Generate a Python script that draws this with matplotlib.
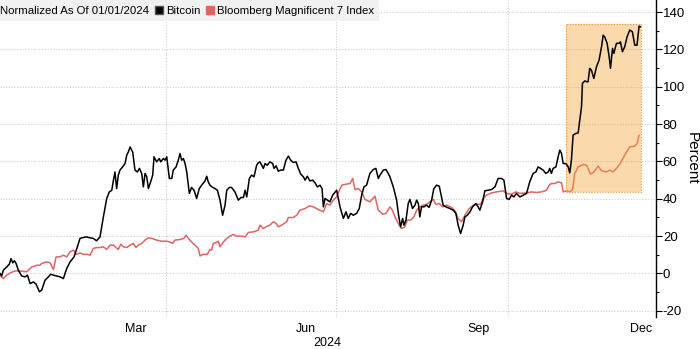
import numpy as np
import matplotlib
matplotlib.use("Agg")
import matplotlib.pyplot as plt
import matplotlib.dates as mdates
from matplotlib.lines import Line2D
from matplotlib.patches import Rectangle
from matplotlib.ticker import MultipleLocator, FixedLocator, FixedFormatter

# days since 2024-01-01, percent change since 01/01/2024
btc_days = [2.1, 3.0, 3.9, 5.7, 7.1, 8.0, 8.9, 9.8, 10.7, 11.9, 13.7, 15.5, 16.8, 18.2, 20.0, 21.4, 23.2, 24.4,
            26.2, 28.0, 29.2, 30.7, 32.4, 34.2, 36.0, 37.8, 39.6, 41.7, 43.5, 44.9, 46.7, 48.5, 50.3, 52.0, 53.8,
            55.6, 57.4, 59.2, 60.6, 61.9, 62.8, 63.6, 64.5, 65.4, 66.3, 67.7, 69.0, 69.9, 70.8,
            71.7, 73.1, 74.3, 75.6, 76.7, 77.9, 78.8, 79.7, 80.6, 81.5, 82.7, 83.8, 84.5, 85.9, 87.3, 88.1, 89.5,
            90.4, 91.3, 92.7, 94.0, 94.8, 96.3, 97.5, 98.4, 99.3, 100.2, 101.1, 102.0, 103.4, 104.6, 105.9, 107.3,
            108.7, 110.0, 111.8, 112.7, 113.5, 114.4, 115.9, 117.1, 118.4, 119.8, 121.2, 122.5, 123.4, 124.8,
            126.0, 127.8, 129.6, 131.0, 132.3, 133.2, 134.1, 135.5, 136.7, 138.0, 139.4, 140.3,
            141.2, 143.0, 143.9, 145.1, 146.5, 148.0, 148.7, 149.8, 151.0, 152.3, 153.7, 155.1, 156.4, 157.6,
            159.0, 160.5, 161.7, 163.0, 164.4, 165.3, 166.5, 167.9, 169.4, 170.6, 171.9, 173.3, 174.4, 175.1,
            176.0, 177.2, 178.6, 180.1, 182.2, 184.0, 185.8, 187.2, 188.4, 189.7, 191.1, 192.9, 194.3, 195.6,
            196.8, 198.2, 200.0, 201.8, 203.2, 204.5, 205.4, 207.2, 208.6, 209.8,
            210.7, 212.5, 214.3, 215.2, 216.4, 217.5, 218.2, 219.3, 220.5, 221.4, 222.8, 224.1, 225.0, 225.9,
            226.7, 227.6, 228.9, 230.3, 231.7, 233.0, 234.2, 235.7, 237.1, 238.3, 239.2, 240.6, 242.8, 244.6,
            246.0, 247.2, 248.5, 249.9, 250.8, 252.1, 253.5, 254.9, 256.7, 257.9, 258.8, 260.3, 261.5, 263.3,
            265.1, 266.9, 268.6, 270.4, 271.7, 273.1, 274.5, 275.8, 277.0, 278.4,
            280.2, 283.8, 285.5, 287.3, 288.8, 290.0, 291.3, 292.7, 294.1, 295.4, 296.2, 297.1, 298.0, 299.5,
            300.7, 301.6, 302.5, 303.4, 304.8, 306.1, 306.9, 307.8, 308.7, 310.1, 311.4, 312.3, 313.2, 313.7,
            315.0, 315.9, 316.7, 317.6, 318.5, 319.8, 321.2, 322.6, 323.9, 324.8, 325.7, 326.9, 328.0, 328.7,
            329.8, 330.5, 331.9, 333.3, 334.0, 335.1, 336.3, 337.6, 339.0, 340.4, 341.7, 342.9, 344.0, 344.7]
btc_pct = [0.0, -1.3, 1.8, 3.5, 5.0, 8.0, 5.7, 6.8, 5.4, 1.8, -1.3, -1.8, -0.9, -5.4, -4.5, -5.7, -9.8, -8.9,
           -3.6, -1.8, -0.4, -0.9, -1.3, -1.8, -2.7, 2.7, 6.2, 8.9, 14.3, 18.8, 19.3, 19.6, 19.1, 18.8, 17.5,
           19.6, 30.3, 40.2, 43.7, 44.6, 50.0, 54.4, 45.5, 52.7, 55.4, 57.1, 58.9, 63.4, 65.2,
           67.8, 65.0, 55.4, 54.4, 56.3, 53.6, 46.4, 53.6, 51.8, 45.5, 49.1, 52.7, 62.5, 59.8, 61.6, 59.8, 61.6,
           60.7, 62.5, 50.9, 50.9, 55.4, 57.1, 60.7, 64.3, 60.7, 61.6, 58.9, 54.4, 42.9, 46.1, 44.6, 40.2,
           45.5, 47.3, 49.6, 52.1, 49.1, 47.3, 46.1, 45.5, 44.6, 39.3, 31.2, 36.6, 44.6, 46.1,
           46.1, 43.7, 39.3, 40.7, 40.7, 44.6, 41.0, 50.9, 52.7, 51.8, 58.0, 59.3,
           59.8, 56.3, 58.9, 58.0, 59.8, 58.9, 56.3, 57.7, 54.8, 55.4, 55.4, 60.7, 62.9, 60.7,
           59.5, 59.8, 56.3, 53.2, 51.8, 50.0, 52.1, 49.6, 50.0, 48.6, 46.4, 47.3, 45.5, 35.7,
           40.2, 39.3, 38.4, 42.0, 44.6, 35.7, 29.5, 33.0, 29.5, 32.2, 31.2, 32.2, 34.8, 42.0,
           46.4, 47.3, 53.6, 55.7, 56.3, 50.9, 52.7, 55.4, 55.7, 53.6,
           51.8, 46.4, 39.3, 32.2, 25.0, 29.5, 25.9, 28.6, 37.5, 39.7, 34.8, 36.6, 39.3, 37.5,
           30.3, 35.7, 35.7, 36.6, 35.4, 39.3, 45.5, 47.3, 46.8, 41.0, 36.6, 35.7, 34.8, 33.9,
           32.2, 25.9, 21.4, 25.9, 30.3, 31.2, 33.0, 35.7, 37.5, 35.7, 33.9, 38.4, 44.3, 44.6,
           45.0, 46.4, 50.9, 50.9, 50.0, 40.2, 39.7, 42.0, 41.0, 42.9,
           41.0, 42.9, 49.1, 53.6, 54.4, 57.1, 56.3, 55.4, 53.6, 54.4, 56.3, 53.6, 56.3, 57.1,
           62.5, 66.1, 64.3, 58.9, 58.9, 57.1, 53.9, 60.7, 74.1, 75.0, 75.3, 82.2, 89.3, 101.8,
           103.2, 102.7, 102.7, 109.9, 108.9, 104.5, 110.7, 114.3, 121.4, 127.7, 126.5, 123.3, 116.1, 109.9,
           120.6, 117.9, 123.3, 123.3, 124.1, 118.8, 121.4, 126.8, 130.4, 129.5, 122.3, 122.3, 132.5, 132.2]

mag7_days = [2.1, 3.9, 5.7, 7.5, 10.2, 12.8, 16.4, 19.1, 21.8, 23.5, 24.4, 27.1, 28.9, 30.7, 32.1, 34.2, 36.0,
             37.8, 39.6, 41.4, 43.1, 44.9, 46.7, 48.8, 50.3, 52.0, 53.8, 55.6, 57.4, 59.2, 61.0, 62.8, 64.2,
             65.4, 66.7, 68.1, 69.9,
             71.7, 73.4, 74.9, 76.1, 77.9, 79.7, 81.5, 83.2, 85.9, 88.6, 91.3, 93.1, 94.5, 95.7, 98.4, 100.5,
             101.6, 102.9, 104.6, 106.4, 108.2, 109.1, 110.9, 113.0, 114.4, 115.3, 116.2, 117.7, 118.9, 119.8,
             121.6, 123.4, 125.1, 126.9, 128.7, 131.4, 133.2, 135.0, 137.6, 140.3,
             141.2, 143.0, 144.4, 146.5, 148.3, 149.8, 151.0, 152.8, 155.5, 156.4, 159.0, 160.8, 162.6, 165.3,
             167.6, 169.7, 172.4, 175.1, 176.9, 178.6, 180.4, 182.2, 184.9, 187.5, 189.3, 190.8, 192.0, 193.8,
             195.6, 197.3, 200.0, 202.7, 204.5, 206.8, 208.6,
             210.7, 212.1, 213.4, 215.2, 216.9, 218.7, 220.0, 221.8, 223.5, 225.0, 226.7, 228.5, 230.3, 232.1,
             233.9, 235.3, 237.1, 238.9, 241.0, 243.7, 245.5, 247.2, 249.0, 250.8, 253.1, 255.3, 257.4, 259.2,
             260.6, 262.4, 265.1, 267.7, 271.3, 273.1, 275.8, 278.1,
             280.2, 283.8, 286.4, 289.1, 291.8, 294.5, 295.9, 297.1, 298.9, 300.7, 302.5, 303.4, 305.2, 306.9,
             308.4, 309.6, 311.4, 314.1, 315.9, 318.0, 319.8, 322.1, 323.9, 326.5, 328.3, 330.1, 331.9, 333.7,
             336.3, 339.0, 341.7, 342.9, 344.0]
mag7_pct = [-1.0, -2.7, -0.9, 0.3, 1.4, 1.4, 0.9, 3.5, 4.4, 4.4, 5.4, 6.2, 5.7, 2.1, 8.9, 8.9, 9.8,
            8.9, 11.6, 12.5, 10.3, 11.0, 10.3, 10.3, 9.8, 13.4, 13.9, 13.9, 14.3, 12.9, 15.2, 15.2, 13.9,
            12.9, 15.7, 14.3, 13.9,
            15.2, 16.1, 13.9, 15.2, 16.1, 17.9, 19.1, 18.8, 17.9, 17.3, 17.3, 16.8, 16.1, 17.9, 18.2, 18.8,
            20.5, 18.8, 16.9, 15.2, 13.4, 9.4, 10.3, 10.2, 12.9, 12.5, 16.1, 16.6, 17.3, 14.3,
            16.9, 18.8, 20.0, 20.9, 20.0, 20.0, 19.6, 22.0, 22.3, 23.2,
            25.9, 24.1, 25.0, 25.9, 27.7, 26.8, 25.0, 25.9, 27.7, 30.0, 30.0, 31.2, 33.9, 34.8,
            36.2, 35.7, 34.3, 33.0, 37.5, 36.6, 39.3, 41.0, 47.3, 47.9, 48.2, 50.9, 45.0, 45.5,
            43.7, 39.7, 38.4, 41.4, 33.9, 31.8, 32.2,
            35.7, 33.9, 30.3, 26.8, 24.1, 25.0, 28.6, 28.6, 30.3, 33.9, 35.7, 36.6, 37.0, 38.4,
            39.7, 37.0, 37.5, 35.7, 36.6, 35.4, 33.6, 29.5, 27.7, 31.2, 34.8, 36.6, 37.1, 37.0,
            40.2, 42.0, 43.2, 43.7, 44.3, 42.9, 42.5, 43.7,
            42.9, 43.2, 43.7, 43.4, 43.7, 44.6, 47.3, 48.2, 48.2, 49.1, 48.6, 43.7, 44.3, 43.7,
            45.0, 53.6, 57.1, 58.4, 58.0, 53.2, 54.4, 57.5, 55.0, 54.4, 55.4, 54.4, 56.3, 58.6,
            63.4, 67.8, 68.2, 69.7, 74.1]

# highlighted window (days since 2024-01-01, percent)
box_days = [304.8, 345.0]
box_pct = [43.4, 133.6]

legend_title = "Normalized As Of 01/01/2024"
series_names = ["Bitcoin", "Bloomberg Magnificent 7 Index"]
month_labels = ["Mar", "Jun", "Sep", "Dec"]
month_label_dates = ["2024-03-16", "2024-06-15", "2024-09-15", "2024-12-11"]
grid_dates = ["2024-04-01", "2024-07-01", "2024-10-01"]

plt.rcParams["font.family"] = ["Liberation Sans", "DejaVu Sans"]
plt.rcParams["axes.unicode_minus"] = False

base = mdates.date2num(np.datetime64("2024-01-01"))
x_btc = base + np.array(btc_days)
x_mag = base + np.array(mag7_days)

fig = plt.figure(figsize=(7.0, 3.49), dpi=100)
ax = fig.add_axes([0.0, 0.0917, 0.937, 0.9083])

red = "#e06464"
ax.plot(x_mag, mag7_pct, color=red, lw=1.1, zorder=2)
ax.plot(x_btc, btc_pct, color="black", lw=1.1, zorder=5)

# highlight box: over the index line, under bitcoin
x0 = base + box_days[0]
w = box_days[1] - box_days[0]
h = box_pct[1] - box_pct[0]
ax.add_patch(Rectangle((x0, box_pct[0]), w, h, facecolor="#f5a53c", alpha=0.42,
                       edgecolor="none", zorder=4))
ax.add_patch(Rectangle((x0, box_pct[0]), w, h, facecolor="none", edgecolor="#eba04a",
                       lw=0.9, ls=(0, (1, 1.2)), zorder=4.5))

ax.set_xlim(base + 2.1, base + 353)
ax.set_ylim(-23.3, 146.5)

# y axis on the right
ax.yaxis.tick_right()
ax.yaxis.set_label_position("right")
ax.yaxis.set_major_locator(MultipleLocator(20))
ax.yaxis.set_minor_locator(MultipleLocator(10))
ax.tick_params(axis="y", which="major", direction="out", length=4, width=0.8,
               labelsize=9.5, pad=1)
ax.tick_params(axis="y", which="minor", direction="out", length=2.5, width=0.8)
ax.set_ylabel("Percent", rotation=270, fontsize=11, labelpad=10)

# x axis: month labels mid-month, gridlines at quarter starts
ax.xaxis.set_major_locator(FixedLocator([mdates.date2num(np.datetime64(d)) for d in month_label_dates]))
ax.xaxis.set_major_formatter(FixedFormatter(month_labels))
ax.xaxis.set_minor_locator(FixedLocator([mdates.date2num(np.datetime64(d)) for d in grid_dates]))
ax.tick_params(axis="x", which="both", length=0, labelsize=9, pad=4)
ax.grid(axis="x", which="minor", color="#cfcfcf", lw=0.8, ls=(0, (1, 1.5)))
ax.grid(axis="y", which="major", color="#cfcfcf", lw=0.8, ls=(0, (1, 1.5)))
ax.set_axisbelow(True)

for s in ["top", "left", "bottom"]:
    ax.spines[s].set_visible(False)
ax.spines["right"].set_linewidth(1.0)

fig.text(0.467, 0.0, "2024", ha="center", va="bottom", fontsize=9)

handles = [Line2D([], [], ls="none", marker=None),
           Line2D([], [], ls="none", marker="s", color="black", markersize=5.5,
                  markeredgecolor="#555555"),
           Line2D([], [], ls="none", marker="s", color=red, markersize=5.5)]
leg = ax.legend(handles, [legend_title] + series_names, ncol=3, loc="upper left",
                bbox_to_anchor=(-0.024, 1.0), frameon=True, fancybox=False,
                fontsize=8.2, handlelength=0.7, handletextpad=0.2, columnspacing=0.55,
                borderaxespad=0, borderpad=0.5)
leg.get_frame().set_facecolor("#f0f0f0")
leg.get_frame().set_edgecolor("none")
leg.get_frame().set_alpha(0.9)
leg.set_zorder(6)

fig.savefig("out.png", dpi=100)
